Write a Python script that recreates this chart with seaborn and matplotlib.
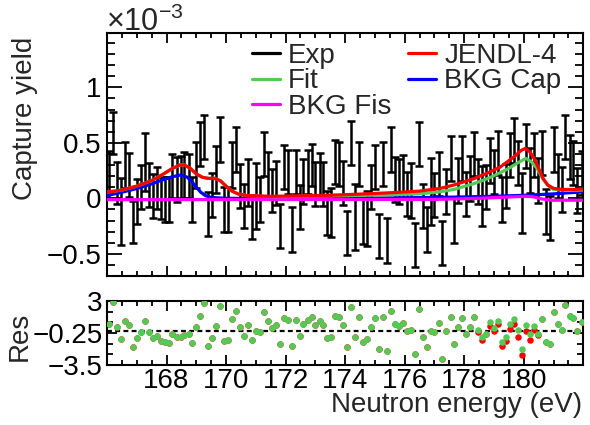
import matplotlib
matplotlib.use("Agg")
import matplotlib.pyplot as plt
import seaborn as sns
from matplotlib.lines import Line2D
from matplotlib.ticker import MultipleLocator, FixedLocator, AutoMinorLocator, FuncFormatter

# ---- data (yield in units of 1e-3) ----
energy = [166.07, 166.20, 166.34, 166.47, 166.60, 166.74, 166.87, 167.00, 167.14, 167.27, 167.40, 167.54, 167.67, 167.80, 167.94,
          168.07, 168.20, 168.34, 168.47, 168.60, 168.74, 168.87, 169.00, 169.14, 169.27, 169.40, 169.54, 169.67, 169.80, 169.94,
          170.07, 170.20, 170.34, 170.47, 170.60, 170.74, 170.87, 171.00, 171.14, 171.27, 171.40, 171.54, 171.67, 171.80, 171.94,
          172.07, 172.20, 172.34, 172.47, 172.60, 172.74, 172.87, 173.00, 173.14, 173.27, 173.40, 173.54, 173.67, 173.80, 173.94,
          174.07, 174.20, 174.34, 174.47, 174.60, 174.74, 174.87, 175.00, 175.14, 175.27, 175.40, 175.54, 175.67, 175.80, 175.94,
          176.07, 176.20, 176.34, 176.47, 176.60, 176.74, 176.87, 177.00, 177.14, 177.27, 177.40, 177.54, 177.67, 177.80, 177.94,
          178.07, 178.20, 178.34, 178.47, 178.60, 178.74, 178.87, 179.00, 179.14, 179.27, 179.40, 179.54, 179.67, 179.80, 179.94,
          180.07, 180.20, 180.34, 180.47, 180.60, 180.74, 180.87, 181.00, 181.14, 181.27, 181.40, 181.54, 181.67, 181.80, 181.94]

yield_exp = [0.21, 0.59, 0.14, -0.12, 0.30, 0.21, -0.21, -0.03, 0.10, 0.33,
             0.12, 0.02, 0.09, 0.00, -0.01, -0.01, 0.20, 0.17, 0.19, 0.21,
             0.20, -0.01, 0.30, 0.49, 0.55, -0.14, 0.03, 0.26, 0.53, -0.10,
             -0.10, 0.30, 0.44, 0.11, -0.07, 0.14, -0.17, 0.02, -0.01, 0.40,
             0.22, 0.07, 0.14, -0.25, 0.28, 0.24, -0.28, 0.24, -0.08, 0.15,
             0.24, 0.30, 0.13, 0.21, 0.13, -0.13, -0.13, 0.33, 0.31, 0.14,
             -0.31, 0.50, -0.17, 0.31, -0.21, -0.18, 0.10, 0.28, -0.34, 0.31,
             -0.38, 0.44, 0.17, 0.15, 0.19, 0.04, 0.07, -0.42, 0.49, -0.07,
             -0.28, 0.06, 0.03, 0.22, -0.40, 0.06, 0.36, -0.20, 0.16, 0.36,
             0.04, 0.18, 0.40, 0.15, 0.02, 0.10, 0.34, 0.24, 0.41, -0.01,
             0.11, 0.39, 0.52, 0.32, -0.04, 0.47, 0.25, 0.39, 0.16, 0.41,
             -0.12, -0.18, 0.44, 0.20, 0.08, 0.55, 0.37, 0.32, 0.07, 0.23]

yield_err = [0.22, 0.19, 0.19, 0.30, 0.21, 0.20, 0.19, 0.20, 0.20, 0.26,
             0.20, 0.20, 0.19, 0.19, 0.20, 0.20, 0.20, 0.20, 0.19, 0.21,
             0.20, 0.20, 0.21, 0.20, 0.20, 0.20, 0.20, 0.21, 0.20, 0.20,
             0.20, 0.21, 0.20, 0.20, 0.20, 0.21, 0.20, 0.30, 0.20, 0.20,
             0.20, 0.19, 0.20, 0.20, 0.20, 0.20, 0.20, 0.20, 0.20, 0.20,
             0.20, 0.19, 0.20, 0.20, 0.20, 0.20, 0.22, 0.20, 0.20, 0.20,
             0.20, 0.20, 0.30, 0.20, 0.20, 0.25, 0.20, 0.20, 0.20, 0.20,
             0.20, 0.20, 0.20, 0.20, 0.20, 0.20, 0.25, 0.20, 0.20, 0.20,
             0.20, 0.30, 0.20, 0.20, 0.20, 0.20, 0.20, 0.20, 0.20, 0.20,
             0.20, 0.20, 0.20, 0.20, 0.27, 0.20, 0.20, 0.20, 0.20, 0.20,
             0.20, 0.20, 0.20, 0.20, 0.27, 0.20, 0.20, 0.20, 0.20, 0.20,
             0.20, 0.20, 0.20, 0.20, 0.20, 0.20, 0.20, 0.20, 0.20, 0.20]

res_fit = [0.67, 2.86, 0.34, -0.84, 1.01, 0.57, -1.68, -0.74, -0.10, 1.01,
           -0.17, -0.74, -0.51, -1.11, -1.18, -1.28, -0.34, -0.61, -0.61, -0.44,
           -0.40, -1.28, 0.34, 1.45, 2.76, -1.62, -0.74, 0.44, 2.53, -1.08,
           -0.94, 1.18, 1.95, 0.34, -0.51, 0.61, -0.94, 0.00, -0.17, 1.92,
           1.01, 0.27, 0.61, -1.35, 1.28, 1.08, -1.52, 1.08, -0.51, 0.67,
           1.08, 1.41, 0.57, 0.94, 0.57, -0.74, -0.67, 1.52, 1.41, 0.57,
           -1.68, 2.36, -0.67, 1.41, -1.18, -0.84, 0.34, 1.25, -1.85, 1.35,
           -2.09, 2.02, 0.67, 0.51, 0.74, -0.07, 0.07, -2.36, 2.19, -0.61,
           -1.68, 0.00, -0.17, 0.74, -2.86, -0.07, 1.41, -1.41, 0.34, 1.28,
           -0.34, 0.34, 1.35, 0.07, -0.67, -0.34, 0.84, 0.27, 1.01, -1.18,
           -0.67, 0.67, 1.18, 0.07, -1.92, 0.57, -0.40, 0.51, -0.34, 1.18,
           -1.18, -1.35, 1.85, 0.67, 0.07, 2.59, 1.52, 1.25, 0.00, 0.84]

# JENDL-4 residuals differ from the fit only around the 180 eV resonance
jendl_res_idx = list(range(93, 109))
jendl_res_val = [-0.17, -1.01, -0.40, 0.51, 0.00, 0.67, -1.62, -1.11,
                 0.17, 0.67, -0.61, -2.53, 0.00, -0.94, 0.07, -0.44]

fit_e = [166.0, 166.5, 167.0, 167.5, 167.9, 168.2, 168.45, 168.6, 168.8, 169.0, 169.2, 169.4, 169.6,
         169.8, 170.0, 170.2, 170.4, 170.7, 171.5, 172.5, 173.5, 174.5, 175.5, 176.5, 177.2, 177.65,
         178.3, 178.8, 179.2, 179.5, 179.8, 180.07, 180.25, 180.45, 180.65, 180.85, 181.0, 181.5, 182.0]
fit_y = [0.055, 0.075, 0.11, 0.16, 0.22, 0.27, 0.30, 0.30, 0.27, 0.22, 0.19, 0.18, 0.18,
         0.16, 0.11, 0.065, 0.04, 0.025, 0.015, 0.018, 0.022, 0.027, 0.032, 0.04, 0.06, 0.08,
         0.13, 0.18, 0.23, 0.27, 0.32, 0.36, 0.33, 0.27, 0.17, 0.11, 0.08, 0.072, 0.075]

jendl_e = [166.0, 166.5, 167.0, 167.5, 167.9, 168.2, 168.45, 168.6, 168.8, 169.0, 169.2, 169.4, 169.6,
           169.8, 170.0, 170.2, 170.4, 170.7, 171.5, 172.5, 173.5, 174.5, 175.5, 176.5, 177.2, 177.65,
           178.3, 178.8, 179.2, 179.45, 179.7, 179.9, 180.05, 180.2, 180.35, 180.5, 180.65, 180.8,
           181.0, 181.3, 181.7, 182.0]
jendl_y = [0.055, 0.075, 0.11, 0.16, 0.22, 0.27, 0.30, 0.30, 0.27, 0.22, 0.19, 0.18, 0.18,
           0.16, 0.11, 0.065, 0.04, 0.025, 0.018, 0.022, 0.028, 0.038, 0.05, 0.065, 0.09, 0.12,
           0.175, 0.23, 0.28, 0.33, 0.38, 0.43, 0.45, 0.42, 0.36, 0.27, 0.18, 0.12,
           0.09, 0.08, 0.08, 0.085]

cap_e = [166.0, 166.5, 167.0, 167.5, 167.8, 168.2, 168.48, 168.7, 168.85, 169.0, 169.15, 169.3,
         169.5, 170.0, 172.0, 174.0, 176.0, 177.5, 178.9, 180.0, 181.0, 181.5, 182.0]
cap_y = [0.025, 0.055, 0.088, 0.13, 0.16, 0.195, 0.21, 0.19, 0.15, 0.10, 0.055, 0.025,
         0.008, 0.0, -0.003, 0.0, 0.005, 0.01, 0.018, 0.027, 0.04, 0.05, 0.058]

fis_e = [166.0, 170.0, 174.0, 177.0, 178.5, 179.5, 180.0, 180.3, 180.6, 180.9, 182.0]
fis_y = [-0.012, -0.011, -0.01, -0.01, 0.0, 0.012, 0.018, 0.015, -0.005, -0.017, -0.017]

res_jendl = list(res_fit)
for i, v in zip(jendl_res_idx, jendl_res_val):
    res_jendl[i] = v

# ---- style ----
sns.set_style("ticks")
plt.rcParams['font.family'] = ['Liberation Sans', 'DejaVu Sans']
plt.rcParams['mathtext.fontset'] = 'custom'
plt.rcParams['mathtext.rm'] = 'Liberation Sans'
plt.rcParams['mathtext.it'] = 'Liberation Sans'
plt.rcParams['axes.edgecolor'] = 'black'
plt.rcParams['xtick.color'] = 'black'
plt.rcParams['ytick.color'] = 'black'

GREEN = '#55c855'
FS = 20
XLIM = (166.0, 181.99)

fig = plt.figure(figsize=(5.9, 4.25), dpi=100)
ax = fig.add_axes([107 / 590, 1 - 276 / 425, 476 / 590, 243 / 425])
axr = fig.add_axes([107 / 590, 1 - 365 / 425, 476 / 590, 64 / 425])

# top panel
ax.errorbar(energy, yield_exp, yerr=yield_err, fmt='none', ecolor='black',
            elinewidth=1.8, capsize=2.8, capthick=1.8, zorder=2)
sns.lineplot(x=cap_e, y=cap_y, ax=ax, color='#0000ff', linewidth=2.3,
             estimator=None, sort=False, legend=False, zorder=3)
sns.lineplot(x=fis_e, y=fis_y, ax=ax, color='#ff00ff', linewidth=2.3,
             estimator=None, sort=False, legend=False, zorder=3)
sns.lineplot(x=fit_e, y=fit_y, ax=ax, color=GREEN, linewidth=2.3,
             estimator=None, sort=False, legend=False, zorder=4)
sns.lineplot(x=jendl_e, y=jendl_y, ax=ax, color='#ff0000', linewidth=2.3,
             estimator=None, sort=False, legend=False, zorder=5)

ax.set_xlim(*XLIM)
ax.set_ylim(-0.7, 1.49)
ax.set_xlabel('')
ax.set_ylabel('')
ax.xaxis.set_major_locator(MultipleLocator(2))
ax.xaxis.set_minor_locator(MultipleLocator(0.5))
ax.yaxis.set_major_locator(MultipleLocator(0.5))
ax.yaxis.set_minor_locator(MultipleLocator(0.1))
fmt = FuncFormatter(lambda v, p: ('%g' % v).replace('-', '\u2212'))
ax.yaxis.set_major_formatter(fmt)
ax.tick_params(which='both', direction='in', top=True, right=True, width=1.3,
               labelbottom=False, labelsize=FS)
ax.tick_params(axis='x', which='major', length=7)
ax.tick_params(axis='x', which='minor', length=3.6)
ax.tick_params(axis='y', which='major', length=11, pad=4)
ax.tick_params(axis='y', which='minor', length=6)

handles = [Line2D([], [], color='black', lw=2.3),
           Line2D([], [], color=GREEN, lw=2.3),
           Line2D([], [], color='#ff00ff', lw=2.3),
           Line2D([], [], color='#ff0000', lw=2.3),
           Line2D([], [], color='#0000ff', lw=2.3)]
labels = ['Exp', 'Fit', 'BKG Fis', 'JENDL-4', 'BKG Cap']
ax.legend(handles, labels, ncol=2, loc='upper left',
          bbox_to_anchor=(252 / 590, 1 - 43 / 425), bbox_transform=fig.transFigure,
          frameon=False, fontsize=FS, handlelength=1.0, handletextpad=0.3,
          columnspacing=0.6, labelspacing=-0.02, borderpad=0, borderaxespad=0)

# residual panel
sns.scatterplot(x=energy, y=res_jendl, ax=axr, color='#ff0000', s=22,
                linewidth=0, zorder=3)
sns.scatterplot(x=energy, y=res_fit, ax=axr, color=GREEN, s=22,
                linewidth=0, zorder=4)
axr.axhline(0, color='black', lw=1.6, ls=(0, (2.2, 1.5)), zorder=2)
axr.set_xlim(*XLIM)
axr.set_ylim(-3.5, 3)
axr.set_xlabel('')
axr.set_ylabel('')
axr.xaxis.set_major_locator(FixedLocator([168, 170, 172, 174, 176, 178, 180]))
axr.xaxis.set_minor_locator(MultipleLocator(0.5))
axr.yaxis.set_major_locator(FixedLocator([-3.5, -0.25, 3]))
axr.yaxis.set_minor_locator(AutoMinorLocator(3))
axr.yaxis.set_major_formatter(fmt)
axr.xaxis.set_major_formatter(FuncFormatter(lambda v, p: '%g' % v))
axr.tick_params(which='both', direction='in', top=True, right=True, width=1.3,
                labelsize=FS)
axr.tick_params(axis='x', which='major', length=7, pad=2)
axr.tick_params(axis='x', which='minor', length=3.5)
axr.tick_params(axis='y', which='major', length=7, pad=3)
axr.tick_params(axis='y', which='minor', length=4)

for a in (ax, axr):
    for s in a.spines.values():
        s.set_linewidth(1.5)
        s.set_color('black')

fig.text(25 / 590, 1 - 118 / 425, 'Capture yield', rotation=90, ha='center',
         va='center', fontsize=FS)
fig.text(20 / 590, 1 - 336 / 425, 'Res', rotation=90, ha='center', va='center',
         fontsize=FS)
fig.text(582 / 590, 1 - 412 / 425, 'Neutron energy (eV)', ha='right',
         va='baseline', fontsize=FS)
fig.text(106 / 590, 1 - 31 / 425, r'×10$^{-3}$', ha='left', va='baseline',
         fontsize=22)

fig.savefig('out.png', dpi=100)
